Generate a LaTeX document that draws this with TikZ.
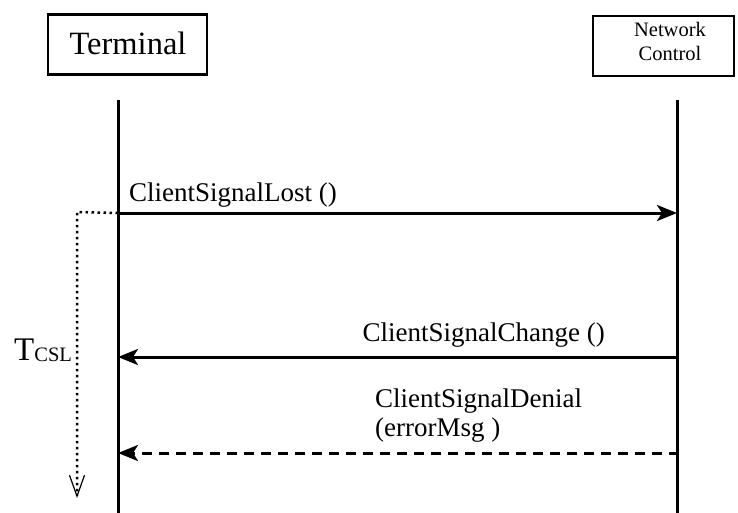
\documentclass[tikz,border=0pt]{standalone}
\usepackage{fontspec}
\setmainfont{Liberation Serif}
\usetikzlibrary{arrows.meta}
\begin{document}
\begin{tikzpicture}[x=1pt,y=-1pt,
  box/.style={draw,line width=2.6pt,inner sep=0pt},
  life/.style={line width=3pt},
  msg/.style={line width=3pt,-{Stealth[length=20pt,width=16pt,inset=5pt]}},
  msgdash/.style={msg,dash pattern=on 10pt off 7pt},
  timer/.style={line width=2.5pt,dash pattern=on 2.5pt off 3.5pt,
    -{Straight Barb[length=21pt,width=15pt,line width=1.2pt]}},
  lbl/.style={inner sep=0pt,font=\fontsize{27}{30}\selectfont}]
\useasboundingbox (0,0) rectangle (738,513);
% participant boxes
\node[box,minimum width=159pt,minimum height=60pt] (term) at (127.5,44.5) {};
\node[inner sep=0pt,anchor=base,font=\fontsize{32.5}{36}\selectfont] (termtxt) at (128,55) {Terminal};
\node[box,minimum width=141pt,minimum height=60pt] (net) at (663.5,46) {};
\node[inner sep=0pt,anchor=base,font=\fontsize{20.5}{24}\selectfont] (nettxt1) at (670,37) {Network};
\node[inner sep=0pt,anchor=base,font=\fontsize{20.5}{24}\selectfont] (nettxt2) at (670,61) {Control};
% lifelines
\coordinate (tA) at (118,100);
\coordinate (tB) at (118,513);
\coordinate (nA) at (677,100);
\coordinate (nB) at (677,513);
\draw[life] (tA) -- (tB);
\draw[life] (nA) -- (nB);
% message anchors
\coordinate (m1s) at (118,213);
\coordinate (m1e) at (677,213);
\coordinate (m2s) at (679,357);
\coordinate (m2e) at (118,357);
\coordinate (m3s) at (679,453);
\coordinate (m3e) at (118,453);
\draw[msg] (m1s) -- (m1e);
\draw[msg] (m2s) -- (m2e);
\draw[msgdash] (m3s) -- (m3e);
% labels
\node[lbl,anchor=base west] (l1) at (129,201) {ClientSignalLost ()};
\node[lbl,anchor=base east] (l2) at (605,341) {ClientSignalChange ()};
\node[lbl,anchor=base west] (l3a) at (375,407) {ClientSignalDenial};
\node[lbl,anchor=base west] (l3b) at (375,436) {(errorMsg )};
% timer
\coordinate (tc1) at (77,212);
\coordinate (tc2) at (77,498);
\draw[timer] (m1s) -- (tc1) -- (tc2);
\node[inner sep=0pt,anchor=base west] (tcsl) at (14,360)
  {{\fontsize{33}{36}\selectfont T}{\fontsize{20.5}{24}\selectfont\raisebox{-1.5pt}{CSL}}};
\end{tikzpicture}
\end{document}
